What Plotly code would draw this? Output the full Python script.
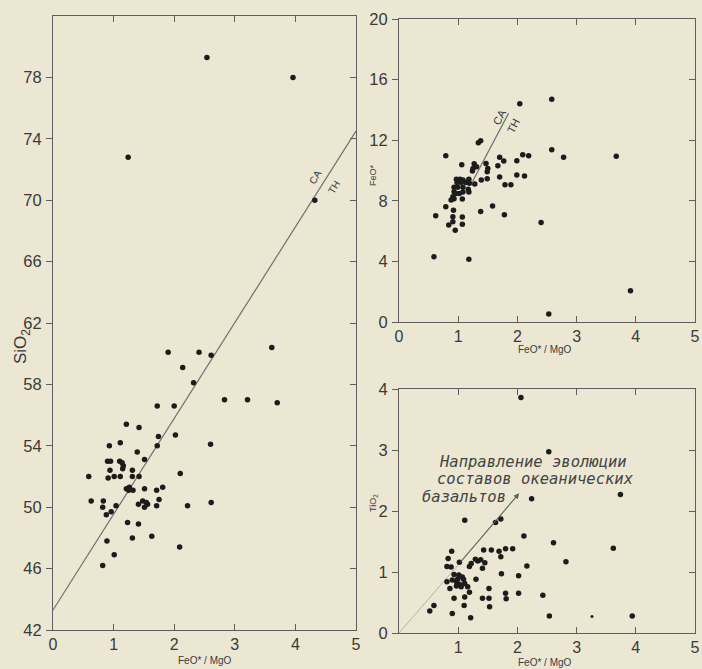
import plotly.graph_objects as go

# ---------------- data ----------------
# Left panel: SiO2 vs FeO*/MgO
sio2_x = [1.24, 2.54, 3.96, 4.32,
          1.90, 2.41, 2.61, 3.61, 2.14, 2.32, 2.83, 3.21, 3.70, 1.72, 2.00, 1.21, 1.42,
          1.74, 2.02, 2.60, 0.93, 1.11, 1.72, 1.39, 1.51, 0.90, 0.95, 1.10, 1.14, 1.16,
          1.15, 0.94, 1.31, 0.59, 0.91, 1.01, 1.11, 1.31, 1.42, 2.10, 1.21, 1.26, 1.32,
          1.25, 1.51, 1.71, 1.81, 0.63, 0.83, 0.82, 0.88, 0.96, 1.04, 1.41, 1.48, 1.54,
          1.51, 1.56, 1.71, 1.75, 2.22, 2.61, 1.23, 1.41, 0.89, 1.31, 1.63, 2.09, 1.01, 0.82]
sio2_y = [72.8, 79.3, 78.0, 70.0,
          60.1, 60.1, 59.9, 60.4, 59.1, 58.1, 57.0, 57.0, 56.8, 56.6, 56.6, 55.4, 55.2,
          54.6, 54.7, 54.1, 54.0, 54.2, 54.0, 53.6, 53.1, 53.0, 53.0, 53.0, 52.9, 52.7,
          52.5, 52.4, 52.4, 52.0, 51.9, 52.0, 52.0, 52.0, 52.0, 52.2, 51.2, 51.3, 51.1,
          51.1, 51.2, 51.1, 51.3, 50.4, 50.4, 50.0, 49.5, 49.7, 50.1, 50.2, 50.4, 50.3,
          50.0, 50.2, 50.1, 50.5, 50.1, 50.3, 49.0, 48.9, 47.8, 48.0, 48.1, 47.4, 46.9, 46.2]
sio2_line_x = [0.0, 5.0]
sio2_line_y = [43.3, 74.5]

# Top-right panel: FeO* vs FeO*/MgO
feo_x = [0.59, 1.18, 2.53, 3.91, 0.62, 0.79, 2.04, 2.58, 2.58, 2.78, 3.67, 2.40, 1.78, 1.58,
         1.38, 0.79, 0.92, 0.91, 1.07, 0.91, 0.84, 1.07, 0.95,
         1.34, 1.38, 1.06, 1.27, 1.25, 1.24, 1.31, 1.47, 1.50, 1.49, 1.70, 1.77, 1.67, 1.99,
         2.09, 2.19, 1.99, 2.12, 1.70, 1.39, 1.49,
         0.97, 1.03, 1.08, 1.18, 0.98, 1.05, 1.13, 1.19, 1.28,
         0.93, 0.99, 1.08, 1.17, 0.93, 0.96, 1.02, 1.08, 1.18, 0.91, 0.93, 0.88, 1.07,
         1.79, 1.89]
feo_y = [4.31, 4.14, 0.53, 2.07, 7.02, 10.98, 14.41, 14.70, 11.37, 10.87, 10.94, 6.56, 7.08, 7.66,
         7.30, 7.61, 7.37, 6.95, 6.93, 6.62, 6.40, 6.45, 6.05,
         11.83, 11.97, 10.38, 10.45, 10.14, 9.97, 10.25, 10.47, 10.14, 9.92, 10.87, 10.63, 10.32, 10.65,
         11.04, 10.98, 9.70, 9.64, 9.57, 9.37, 9.46,
         9.42, 9.42, 9.37, 9.42, 9.20, 9.20, 9.20, 9.16, 9.11,
         8.89, 8.89, 8.89, 8.76, 8.60, 8.49, 8.49, 8.58, 8.58, 8.27, 8.14, 8.05, 8.12,
         9.06, 9.06]
feo_line_x = [1.24, 1.85]
feo_line_y = [9.26, 13.77]

# Bottom-right panel: TiO2 vs FeO*/MgO
tio2_x = [2.06, 2.53, 2.24, 3.74, 1.11, 1.63, 1.72, 2.11, 2.61, 3.62, 2.82, 2.16, 0.89, 1.43,
          1.56, 1.69, 1.80, 1.92, 1.72, 0.83, 1.02, 1.29, 1.33, 1.38, 1.45, 1.22, 1.19, 1.41,
          0.81, 0.88, 1.73, 2.02, 0.93, 1.01, 1.07, 1.09, 0.99, 0.90, 1.30, 0.81, 0.97, 1.02,
          1.11, 1.16, 1.05, 0.97, 0.86, 1.52, 1.19, 1.80, 1.81, 2.02, 2.43, 0.93, 1.11, 1.41,
          1.52, 1.10, 1.53, 0.59, 0.52, 0.90, 1.21, 2.54, 3.94]
tio2_y = [3.86, 2.97, 2.20, 2.27, 1.85, 1.81, 1.87, 1.59, 1.48, 1.39, 1.17, 1.10, 1.34, 1.36,
          1.36, 1.34, 1.38, 1.38, 1.25, 1.22, 1.16, 1.21, 1.18, 1.20, 1.15, 1.14, 1.09, 1.06,
          1.09, 1.08, 0.97, 0.94, 0.96, 0.95, 0.92, 0.88, 0.88, 0.87, 0.88, 0.84, 0.84, 0.80,
          0.81, 0.76, 0.76, 0.77, 0.73, 0.73, 0.67, 0.65, 0.56, 0.65, 0.62, 0.57, 0.59, 0.57,
          0.57, 0.45, 0.43, 0.45, 0.36, 0.32, 0.25, 0.28, 0.28]
tio2_small_x = [3.26]
tio2_small_y = [0.27]
trend_x = [0.0, 1.02]
trend_y = [0.0, 1.14]
arrow_tail = [1.02, 1.14]
arrow_head = [2.03, 2.29]

x_ticks_full = [0, 1, 2, 3, 4, 5]
x_ticks_br = [1, 2, 3, 4, 5]
y1_ticks = [42, 46, 50, 54, 58, 62, 66, 70, 74, 78]
y2_ticks = [0, 4, 8, 12, 16, 20]
y3_ticks = [0, 1, 2, 3, 4]

# ---------------- style ----------------
BG = "#ebe7d3"
INK = "#3a3a3a"
AX = "#5e5e5e"
DOT = "#1c1c1c"
FONT = "Liberation Sans, Arial, sans-serif"

fig = go.Figure()

def dots(x, y, xa, ya, size=5.5):
    fig.add_trace(go.Scatter(x=x, y=y, mode="markers", xaxis=xa, yaxis=ya,
                             marker=dict(size=size, color=DOT, line=dict(width=0)),
                             showlegend=False, hoverinfo="x+y"))

def line(x, y, xa, ya, color="#707070", width=1.2):
    fig.add_trace(go.Scatter(x=x, y=y, mode="lines", xaxis=xa, yaxis=ya,
                             line=dict(color=color, width=width),
                             showlegend=False, hoverinfo="skip"))

line(sio2_line_x, sio2_line_y, "x", "y")
dots(sio2_x, sio2_y, "x", "y")
line(feo_line_x, feo_line_y, "x2", "y2")
dots(feo_x, feo_y, "x2", "y2")
line(trend_x, trend_y, "x3", "y3", color="#b8b3a0", width=1)
dots(tio2_x, tio2_y, "x3", "y3")
dots(tio2_small_x, tio2_small_y, "x3", "y3", size=3)

# dummy traces for the right-side tick axes
for ya, xa in [("y4", "x"), ("y5", "x2"), ("y6", "x3")]:
    fig.add_trace(go.Scatter(x=[None], y=[None], xaxis=xa, yaxis=ya, mode="markers",
                             showlegend=False, hoverinfo="skip"))

dom_l = [53 / 702, 356 / 702]
dom_r = [399 / 702, 695 / 702]
ydom_l = [39 / 669, 653 / 669]
ydom_tr = [347 / 669, 650 / 669]
ydom_br = [36 / 669, 280 / 669]

ytickfont = dict(family=FONT, size=16.5, color=INK)
xtickfont = dict(family=FONT, size=16, color=INK)

def xaxis(domain, anchor, tickvals):
    return dict(domain=domain, anchor=anchor, range=[0, 5], tickvals=tickvals,
                ticktext=[str(t) for t in tickvals],
                ticks="inside", ticklen=6, tickcolor=AX, mirror="ticks",
                showline=True, linecolor=AX, linewidth=1, showgrid=False, zeroline=False,
                tickfont=xtickfont, automargin=False, ticklabeloverflow="allow",
                fixedrange=True)

def yaxis(domain, anchor, rng, tickvals):
    return dict(domain=domain, anchor=anchor, range=rng, tickvals=tickvals,
                ticks="outside", ticklen=6, tickcolor=AX, mirror=True,
                showline=True, linecolor=AX, linewidth=1, showgrid=False, zeroline=False,
                tickfont=ytickfont, ticklabelstandoff=1, automargin=False,
                ticklabeloverflow="allow", fixedrange=True)

def yright(over, anchor, rng, tickvals):
    return dict(overlaying=over, anchor=anchor, side="right", range=rng, tickvals=tickvals,
                ticks="inside", ticklen=6, tickcolor=AX, showticklabels=False,
                showline=False, showgrid=False, zeroline=False, automargin=False,
                fixedrange=True)

fig.update_layout(
    template="none",
    width=702, height=669, margin=dict(l=0, r=0, t=0, b=0, pad=0),
    paper_bgcolor=BG, plot_bgcolor=BG, showlegend=False,
    font=dict(family=FONT, color=INK),
    xaxis=xaxis(dom_l, "y", x_ticks_full),
    yaxis=yaxis(ydom_l, "x", [42, 82], y1_ticks),
    xaxis2=xaxis(dom_r, "y2", x_ticks_full),
    yaxis2=yaxis(ydom_tr, "x2", [0, 20], y2_ticks),
    xaxis3=xaxis(dom_r, "y3", x_ticks_br),
    yaxis3=yaxis(ydom_br, "x3", [0, 4], y3_ticks),
    yaxis4=yright("y", "x", [42, 82], y1_ticks),
    yaxis5=yright("y2", "x2", [0, 20], y2_ticks),
    yaxis6=yright("y3", "x3", [0, 4], y3_ticks),
)

def P(px, py):
    return px / 702, (669 - py) / 669

ann = []
# axis titles
for txt, px, py, size in [("SiO<sub>2</sub>", 22, 347, 17),
                          ("FeO*", 373, 175, 9),
                          ("TiO<sub>2</sub>", 373, 503, 9)]:
    x, y = P(px, py)
    ann.append(dict(text=txt, x=x, y=y, xref="paper", yref="paper", xanchor="center",
                    yanchor="middle", textangle=-90, showarrow=False,
                    font=dict(family=FONT, size=size, color=INK)))
for px, py in [(205, 660), (545, 349), (545, 662)]:
    x, y = P(px, py)
    ann.append(dict(text="FeO* / MgO", x=x, y=y, xref="paper", yref="paper",
                    xanchor="center", yanchor="middle", showarrow=False,
                    font=dict(family=FONT, size=10, color=INK)))

# CA / TH labels
ann.append(dict(text="CA", x=4.32, y=71.5, xref="x", yref="y", textangle=-58, showarrow=False,
                font=dict(family=FONT, size=10, color=INK)))
ann.append(dict(text="TH", x=4.64, y=70.8, xref="x", yref="y", textangle=-58, showarrow=False,
                font=dict(family=FONT, size=10, color=INK)))
ann.append(dict(text="CA", x=1.70, y=13.5, xref="x2", yref="y2", textangle=-62, showarrow=False,
                font=dict(family=FONT, size=11, color=INK)))
ann.append(dict(text="TH", x=1.93, y=12.94, xref="x2", yref="y2", textangle=-62, showarrow=False,
                font=dict(family=FONT, size=11, color=INK)))

# evolution arrow
ann.append(dict(x=arrow_head[0], y=arrow_head[1], ax=arrow_tail[0], ay=arrow_tail[1],
                xref="x3", yref="y3", axref="x3", ayref="y3", text="", showarrow=True,
                arrowhead=2, arrowsize=1, arrowwidth=1.1, arrowcolor="#606060"))

# handwritten label
lab_font = dict(family="DejaVu Sans Mono, monospace", size=15.5, color="#444444")
for txt, px, py in [("Направление эволюции", 437, 462),
                    ("составов океанических", 435, 479),
                    ("базальтов", 420, 497)]:
    x, y = P(px, py)
    ann.append(dict(text="<i>" + txt + "</i>", x=x, y=y,
                    xref="paper", yref="paper", xanchor="left", yanchor="middle",
                    showarrow=False, font=lab_font))

fig.update_layout(annotations=ann)
fig.write_html(
    "out.html",
    config={"displayModeBar": False},
    post_script=("document.body.style.margin='0';document.body.style.padding='0';"
                 "document.body.style.overflow='hidden';"
                 "document.body.style.background='" + BG + "';"),
)
